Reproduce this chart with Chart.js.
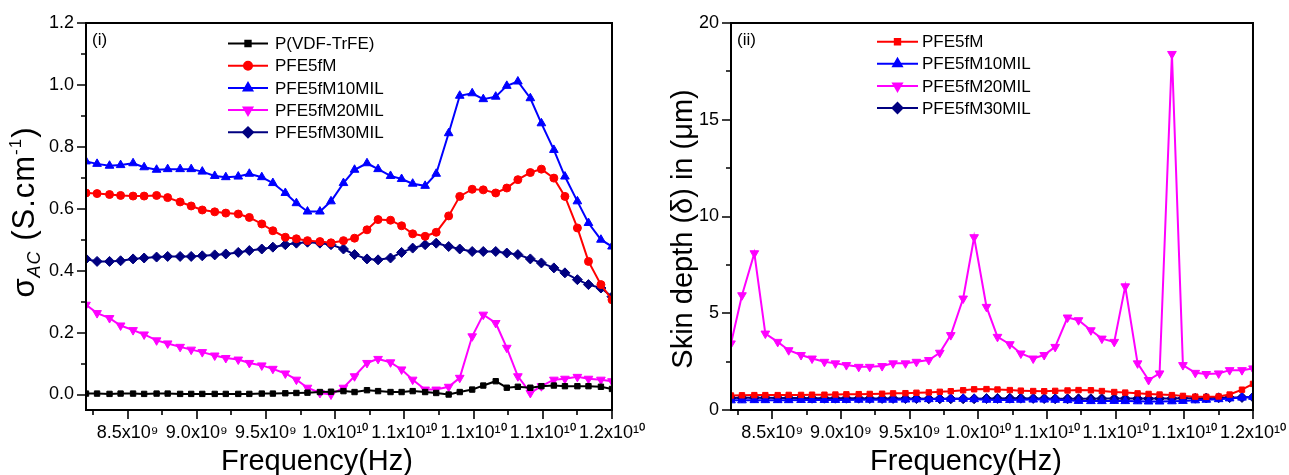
<!DOCTYPE html>
<html>
<head>
<meta charset="utf-8">
<script src="https://cdn.jsdelivr.net/npm/chart.js@4.4.0/dist/chart.umd.min.js"></script>
<style>
  html, body { margin: 0; padding: 0; background: #fff; }
  body { width: 1289px; height: 475px; position: relative; overflow: hidden; }
  .box { position: absolute; top: 0; height: 475px; }
  #left { left: 0; width: 660px; }
  #right { left: 640px; width: 649px; }
</style>
</head>
<body>
<div class="box" id="left"><canvas id="c1"></canvas></div>
<div class="box" id="right"><canvas id="c2"></canvas></div>
<script>
// frequency in GHz
const freq = [8.20, 8.28, 8.37, 8.45, 8.54, 8.62, 8.71, 8.79, 8.88, 8.96, 9.04, 9.13, 9.21, 9.30, 9.38, 9.47,
  9.55, 9.64, 9.72, 9.80, 9.89, 9.97, 10.06, 10.14, 10.23, 10.31, 10.40, 10.48, 10.56, 10.65, 10.73, 10.82,
  10.90, 10.99, 11.07, 11.16, 11.24, 11.32, 11.41, 11.49, 11.58, 11.66, 11.75, 11.83, 11.92, 12.00]

// (i) AC conductivity, S/cm
const sigPVDF = [0.003, 0.003, 0.002, 0.003, 0.003, 0.002, 0.003, 0.003, 0.002, 0.002, 0.002, 0.002, 0.002, 0.002, 0.002, 0.003,
  0.003, 0.004, 0.005, 0.006, 0.008, 0.009, 0.011, 0.008, 0.014, 0.011, 0.008, 0.008, 0.011, 0.008, 0.005, 0.000,
  0.008, 0.016, 0.029, 0.043, 0.022, 0.025, 0.022, 0.027, 0.029, 0.027, 0.027, 0.027, 0.025, 0.018]
const sigPFE = [0.651, 0.649, 0.646, 0.643, 0.641, 0.641, 0.643, 0.636, 0.622, 0.609, 0.596, 0.590, 0.586, 0.583, 0.572, 0.551,
  0.529, 0.508, 0.503, 0.497, 0.494, 0.490, 0.497, 0.505, 0.532, 0.565, 0.563, 0.545, 0.519, 0.511, 0.524, 0.577,
  0.640, 0.663, 0.661, 0.651, 0.667, 0.694, 0.717, 0.728, 0.699, 0.640, 0.538, 0.430, 0.355, 0.306]
const sig10 = [0.753, 0.745, 0.739, 0.741, 0.747, 0.734, 0.726, 0.728, 0.728, 0.728, 0.720, 0.706, 0.702, 0.704, 0.713, 0.702,
  0.683, 0.651, 0.618, 0.591, 0.591, 0.624, 0.683, 0.726, 0.747, 0.728, 0.706, 0.696, 0.681, 0.674, 0.713, 0.844,
  0.965, 0.973, 0.954, 0.962, 0.997, 1.011, 0.957, 0.876, 0.790, 0.704, 0.624, 0.554, 0.500, 0.478]
const sig20 = [0.290, 0.263, 0.247, 0.223, 0.208, 0.194, 0.175, 0.165, 0.154, 0.145, 0.137, 0.126, 0.118, 0.113, 0.102, 0.094,
  0.083, 0.068, 0.048, 0.022, 0.005, 0.000, 0.022, 0.059, 0.102, 0.115, 0.104, 0.081, 0.048, 0.016, 0.016, 0.025,
  0.054, 0.188, 0.258, 0.231, 0.151, 0.059, 0.005, 0.027, 0.048, 0.051, 0.057, 0.051, 0.048, 0.043]
const sig30 = [0.438, 0.430, 0.430, 0.432, 0.438, 0.441, 0.444, 0.446, 0.446, 0.446, 0.448, 0.451, 0.454, 0.459, 0.465, 0.470,
  0.476, 0.484, 0.489, 0.492, 0.489, 0.484, 0.470, 0.452, 0.438, 0.435, 0.441, 0.459, 0.473, 0.484, 0.489, 0.478,
  0.470, 0.462, 0.462, 0.462, 0.457, 0.452, 0.438, 0.425, 0.409, 0.393, 0.371, 0.355, 0.344, 0.316]

// (ii) skin depth, um
const dPFE = [0.75, 0.76, 0.77, 0.77, 0.77, 0.78, 0.78, 0.79, 0.79, 0.80, 0.81, 0.82, 0.83, 0.84, 0.86, 0.87,
  0.89, 0.91, 0.94, 0.97, 1.02, 1.07, 1.08, 1.06, 1.03, 1.00, 0.98, 0.97, 0.99, 1.01, 1.03, 1.02,
  0.98, 0.93, 0.90, 0.86, 0.83, 0.80, 0.77, 0.73, 0.69, 0.68, 0.70, 0.80, 1.05, 1.35]
const d10 = [0.50, 0.50, 0.51, 0.51, 0.51, 0.51, 0.52, 0.52, 0.52, 0.52, 0.52, 0.53, 0.53, 0.53, 0.53, 0.54,
  0.55, 0.56, 0.57, 0.58, 0.58, 0.56, 0.53, 0.52, 0.52, 0.53, 0.54, 0.54, 0.53, 0.51, 0.47, 0.46,
  0.46, 0.47, 0.46, 0.45, 0.44, 0.44, 0.45, 0.47, 0.50, 0.53, 0.56, 0.60, 0.64, 0.68]
const d20 = [3.44, 5.93, 8.10, 3.95, 3.52, 3.09, 2.84, 2.66, 2.49, 2.41, 2.32, 2.23, 2.23, 2.27, 2.41, 2.41,
  2.49, 2.58, 2.96, 3.87, 5.76, 8.93, 5.33, 3.78, 3.40, 2.92, 2.66, 2.84, 3.26, 4.78, 4.64, 4.12,
  3.69, 3.52, 6.39, 2.41, 1.55, 1.89, 18.4, 2.32, 1.92, 1.86, 1.89, 2.06, 2.06, 2.15]
const d30 = [0.62, 0.63, 0.63, 0.63, 0.62, 0.62, 0.62, 0.61, 0.61, 0.61, 0.61, 0.61, 0.60, 0.60, 0.60, 0.59,
  0.59, 0.58, 0.58, 0.58, 0.58, 0.58, 0.59, 0.60, 0.61, 0.61, 0.60, 0.59, 0.58, 0.58, 0.58, 0.58,
  0.59, 0.59, 0.59, 0.59, 0.59, 0.60, 0.60, 0.61, 0.61, 0.62, 0.63, 0.64, 0.65, 0.66]

// ticks ('' = minor tick)
const xTicks = [8.25, 8.5, 8.75, 9.0, 9.25, 9.5, 9.75, 10.0, 10.25, 10.5, 10.75, 11.0, 11.25, 11.5, 11.75, 12.0]
const xTickLabels = ['', '8.5x10⁹', '', '9.0x10⁹', '', '9.5x10⁹', '', '1.0x10¹⁰', '', '1.1x10¹⁰', '', '1.1x10¹⁰', '', '1.1x10¹⁰', '', '1.2x10¹⁰']
const y1Ticks = [0, 0.1, 0.2, 0.3, 0.4, 0.5, 0.6, 0.7, 0.8, 0.9, 1.0, 1.1, 1.2]
const y1TickLabels = ['0.0', '', '0.2', '', '0.4', '', '0.6', '', '0.8', '', '1.0', '', '1.2']
const y2Ticks = [0, 2.5, 5, 7.5, 10, 12.5, 15, 17.5, 20]
const y2TickLabels = ['0', '', '5', '', '10', '', '15', '', '20']

const FONT = "'Liberation Sans', Arial, sans-serif"

function series (label, values, color, style, rot, r) {
  return {
    label: label,
    data: freq.map((f, i) => ({ x: f, y: values[i] })),
    borderColor: color,
    backgroundColor: color,
    borderWidth: 2,
    pointStyle: style,
    pointRotation: rot,
    pointRadius: r,
    pointBorderWidth: 1,
    pointHoverRadius: r
  }
}

function marker (ctx, style, rot, r, x, y) {
  if (Chart.helpers && Chart.helpers.drawPoint) {
    Chart.helpers.drawPoint(ctx, { pointStyle: style, rotation: rot, radius: r, borderWidth: 1 }, x, y)
  }
}

// box, ticks, legend and titles
const decor = {
  id: 'decor',
  afterDatasetsDraw (chart, args, opts) {
    const { ctx, chartArea: a } = chart
    ctx.save()
    ctx.strokeStyle = '#000'
    ctx.lineWidth = 2
    ctx.strokeRect(a.left, a.top, a.right - a.left, a.bottom - a.top)
    ctx.lineWidth = 1.6
    ctx.beginPath()
    chart.scales.x.ticks.forEach(t => {
      const px = Math.round(chart.scales.x.getPixelForValue(t.value))
      ctx.moveTo(px, a.bottom)
      ctx.lineTo(px, a.bottom + (t.label ? 9 : 5))
    })
    chart.scales.y.ticks.forEach(t => {
      const py = Math.round(chart.scales.y.getPixelForValue(t.value))
      ctx.moveTo(a.left, py)
      ctx.lineTo(a.left - (t.label ? 9 : 5), py)
    })
    ctx.stroke()

    // panel tag
    ctx.fillStyle = '#000'
    ctx.font = '17px ' + FONT
    ctx.textBaseline = 'alphabetic'
    ctx.fillText(opts.tag, a.left + 6, a.top + 22)

    // legend inside the plot
    const lg = opts.legend
    chart.data.datasets.forEach((d, i) => {
      const y = lg.y + i * lg.dy
      ctx.strokeStyle = d.borderColor
      ctx.fillStyle = d.backgroundColor
      ctx.lineWidth = 2
      ctx.beginPath()
      ctx.moveTo(lg.x, y)
      ctx.lineTo(lg.x + lg.len, y)
      ctx.stroke()
      marker(ctx, d.pointStyle, d.pointRotation, d.pointRadius, lg.x + lg.len / 2, y)
      ctx.fillStyle = '#000'
      ctx.font = '17px ' + FONT
      ctx.textBaseline = 'middle'
      ctx.fillText(d.label, lg.x + lg.len + lg.gap, y + 1)
    })

    // x title
    ctx.fillStyle = '#000'
    ctx.textAlign = 'center'
    ctx.textBaseline = 'alphabetic'
    ctx.font = '29px ' + FONT
    ctx.fillText('Frequency(Hz)', opts.xTitle.x, opts.xTitle.y)

    // y title, rotated, made of pieces
    ctx.save()
    ctx.translate(opts.yTitle.x, opts.yTitle.y)
    ctx.rotate(-Math.PI / 2)
    ctx.textAlign = 'left'
    ctx.letterSpacing = opts.yTitle.spacing || '0px'
    const parts = opts.yTitle.parts
    let w = 0
    parts.forEach(p => { ctx.font = p.f; w += ctx.measureText(p.t).width })
    let cx = -w / 2
    parts.forEach(p => {
      ctx.font = p.f
      ctx.fillText(p.t, cx, p.dy || 0)
      cx += ctx.measureText(p.t).width
    })
    ctx.restore()
    ctx.restore()
  }
}

function makeOptions (yMin, yMax, yTicks, yLabels, yWidth, padRight, extra) {
  return {
    responsive: true,
    maintainAspectRatio: false,
    animation: false,
    events: [],
    layout: { padding: { top: 23, right: padRight, bottom: 0, left: 0 } },
    plugins: { legend: { display: false }, tooltip: { enabled: false }, decor: extra },
    scales: {
      x: {
        type: 'linear',
        min: 8.2,
        max: 12.0,
        afterBuildTicks: s => { s.ticks = xTicks.map(v => ({ value: v })) },
        afterFit: s => { s.height = 65 },
        grid: { display: false, drawTicks: true, tickLength: 9 },
        border: { display: false },
        ticks: {
          autoSkip: false,
          maxRotation: 0,
          minRotation: 0,
          padding: 3,
          color: '#000',
          font: { family: FONT, size: 18 },
          callback: (v, i) => xTickLabels[i]
        }
      },
      y: {
        min: yMin,
        max: yMax,
        afterBuildTicks: s => { s.ticks = yTicks.map(v => ({ value: v })) },
        afterFit: s => { s.width = yWidth },
        grid: { display: false, drawTicks: true, tickLength: 9 },
        border: { display: false },
        ticks: {
          autoSkip: false,
          padding: 3,
          color: '#000',
          font: { family: FONT, size: 18 },
          callback: (v, i) => yLabels[i]
        }
      }
    }
  }
}

new Chart(document.getElementById('c1'), {
  type: 'line',
  data: {
    datasets: [
      series('P(VDF-TrFE)', sigPVDF, '#000000', 'rect', 0, 3.8),
      series('PFE5fM', sigPFE, '#ff0000', 'circle', 0, 4),
      series('PFE5fM10MIL', sig10, '#0000ff', 'triangle', 0, 5),
      series('PFE5fM20MIL', sig20, '#ff00ff', 'triangle', 180, 5),
      series('PFE5fM30MIL', sig30, '#000080', 'rectRot', 0, 5)
    ]
  },
  options: makeOptions(-0.05, 1.2, y1Ticks, y1TickLabels, 86, 48, {
    tag: '(i)',
    legend: { x: 228, len: 40, y: 43.5, dy: 22.2, gap: 7 },
    xTitle: { x: 317, y: 470 },
    yTitle: {
      x: 34,
      y: 212,
      spacing: '1px',
      parts: [
        { t: 'σ', f: '31px ' + FONT },
        { t: 'AC', f: 'italic 18px ' + FONT, dy: 6 },
        { t: ' (S.cm', f: '31px ' + FONT },
        { t: '-1', f: '17px ' + FONT, dy: -13 },
        { t: ')', f: '31px ' + FONT }
      ]
    }
  }),
  plugins: [decor]
})

new Chart(document.getElementById('c2'), {
  type: 'line',
  data: {
    datasets: [
      series('PFE5fM', dPFE, '#ff0000', 'rect', 0, 3.8),
      series('PFE5fM10MIL', d10, '#0000ff', 'triangle', 0, 5),
      series('PFE5fM20MIL', d20, '#ff00ff', 'triangle', 180, 5),
      series('PFE5fM30MIL', d30, '#000080', 'rectRot', 0, 5)
    ]
  },
  options: makeOptions(0, 20, y2Ticks, y2TickLabels, 91, 34, {
    tag: '(ii)',
    legend: { x: 237, len: 41, y: 41.7, dy: 22.1, gap: 4 },
    xTitle: { x: 326, y: 470 },
    yTitle: {
      x: 52,
      y: 229,
      parts: [{ t: 'Skin depth (δ) in (μm)', f: '29px ' + FONT }]
    }
  }),
  plugins: [decor]
})
</script>
</body>
</html>
